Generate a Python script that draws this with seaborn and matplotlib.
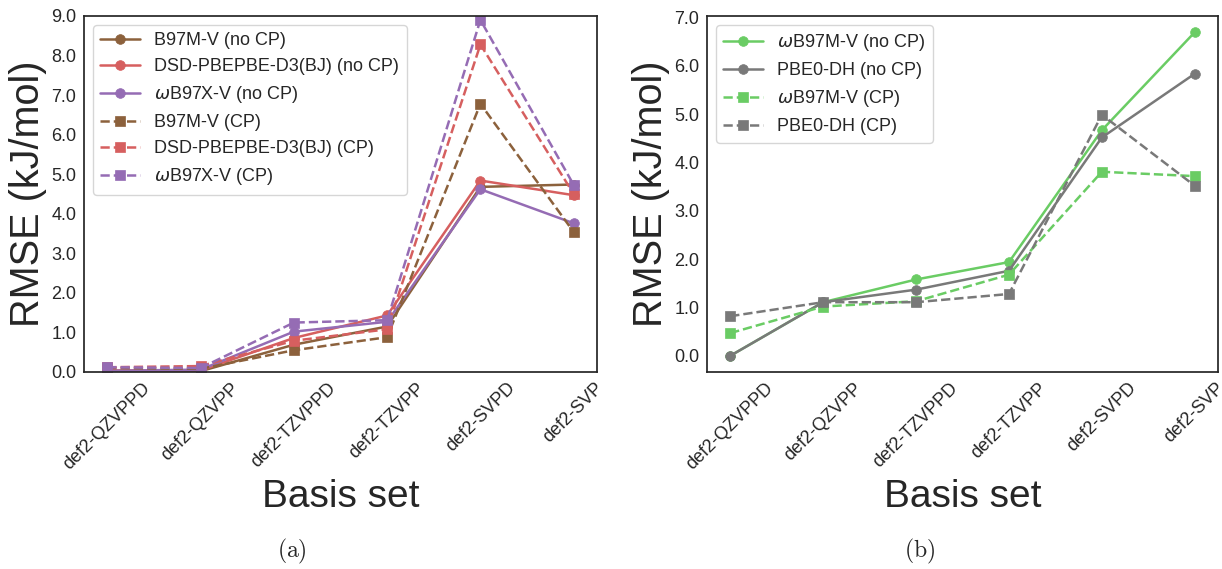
import matplotlib
matplotlib.use("Agg")
import matplotlib.pyplot as plt
from matplotlib.ticker import FormatStrFormatter, MultipleLocator
import pandas as pd
import seaborn as sns

basis_sets = ["def2-QZVPPD", "def2-QZVPP", "def2-TZVPPD", "def2-TZVPP", "def2-SVPD", "def2-SVP"]

# Panel (a): RMSE in kJ/mol per basis set
b97mv_nocp = [0.02, 0.02, 0.69, 1.15, 4.68, 4.74]
dsd_nocp = [0.04, 0.04, 0.86, 1.43, 4.84, 4.47]
wb97xv_nocp = [0.03, 0.06, 1.02, 1.27, 4.62, 3.76]
b97mv_cp = [0.10, 0.08, 0.55, 0.88, 6.78, 3.54]
dsd_cp = [0.12, 0.15, 0.79, 1.08, 8.28, 4.50]
wb97xv_cp = [0.12, 0.10, 1.25, 1.31, 8.90, 4.73]

# Panel (b)
wb97mv_nocp = [0.00, 1.11, 1.58, 1.94, 4.67, 6.70]
pbe0dh_nocp = [0.00, 1.11, 1.37, 1.76, 4.52, 5.84]
wb97mv_cp = [0.47, 1.02, 1.13, 1.68, 3.81, 3.72]
pbe0dh_cp = [0.82, 1.11, 1.11, 1.28, 4.99, 3.52]

sns.set_style("white")
plt.rcParams["font.family"] = ["Liberation Sans", "DejaVu Sans"]

pal = sns.color_palette("muted")
brown, red, purple, green, grey = pal[5], pal[3], pal[4], pal[2], pal[7]

panel_a = [
    ("B97M-V (no CP)", b97mv_nocp, brown, "o", "-"),
    ("DSD-PBEPBE-D3(BJ) (no CP)", dsd_nocp, red, "o", "-"),
    (r"$\omega$B97X-V (no CP)", wb97xv_nocp, purple, "o", "-"),
    ("B97M-V (CP)", b97mv_cp, brown, "s", "--"),
    ("DSD-PBEPBE-D3(BJ) (CP)", dsd_cp, red, "s", "--"),
    (r"$\omega$B97X-V (CP)", wb97xv_cp, purple, "s", "--"),
]
panel_b = [
    (r"$\omega$B97M-V (no CP)", wb97mv_nocp, green, "o", "-"),
    ("PBE0-DH (no CP)", pbe0dh_nocp, grey, "o", "-"),
    (r"$\omega$B97M-V (CP)", wb97mv_cp, green, "s", "--"),
    ("PBE0-DH (CP)", pbe0dh_cp, grey, "s", "--"),
]

W, H = 1222, 569
fig = plt.figure(figsize=(W / 100, H / 100), dpi=100)
ax_a = fig.add_axes([84 / W, 1 - 372 / H, (597 - 84) / W, 356 / H])
ax_b = fig.add_axes([707 / W, 1 - 372 / H, (1218 - 707) / W, 356 / H])


def draw(ax, series):
    for label, vals, color, marker, ls in series:
        df = pd.DataFrame({"basis": basis_sets, "rmse": vals})
        sns.lineplot(data=df, x="basis", y="rmse", ax=ax, sort=False,
                     color=color, marker=marker, linestyle=ls, label=label,
                     linewidth=1.8, markersize=7, markeredgewidth=0.5,
                     markeredgecolor=color)
    ax.set_xlabel("Basis set", fontsize=28)
    ax.set_ylabel("RMSE (kJ/mol)", fontsize=28.5, labelpad=3)
    ax.yaxis.set_major_locator(MultipleLocator(1.0))
    ax.yaxis.set_major_formatter(FormatStrFormatter("%.1f"))
    ax.tick_params(axis="both", labelsize=13, pad=2)
    plt.setp(ax.get_xticklabels(), rotation=45)
    ax.legend(loc="upper left", frameon=True, fontsize=13, labelspacing=0.5,
              handlelength=2.2)
    for s in ax.spines.values():
        s.set_linewidth(1.25)


draw(ax_a, panel_a)
ax_a.set_ylim(0, 9)
draw(ax_b, panel_b)

fig.text(292 / W, 1 - 551 / H, r"$\mathrm{(a)}$", fontsize=17, ha="center",
         va="center", math_fontfamily="cm")
fig.text(920 / W, 1 - 551 / H, r"$\mathrm{(b)}$", fontsize=17, ha="center",
         va="center", math_fontfamily="cm")

fig.savefig("out.png", dpi=100)
